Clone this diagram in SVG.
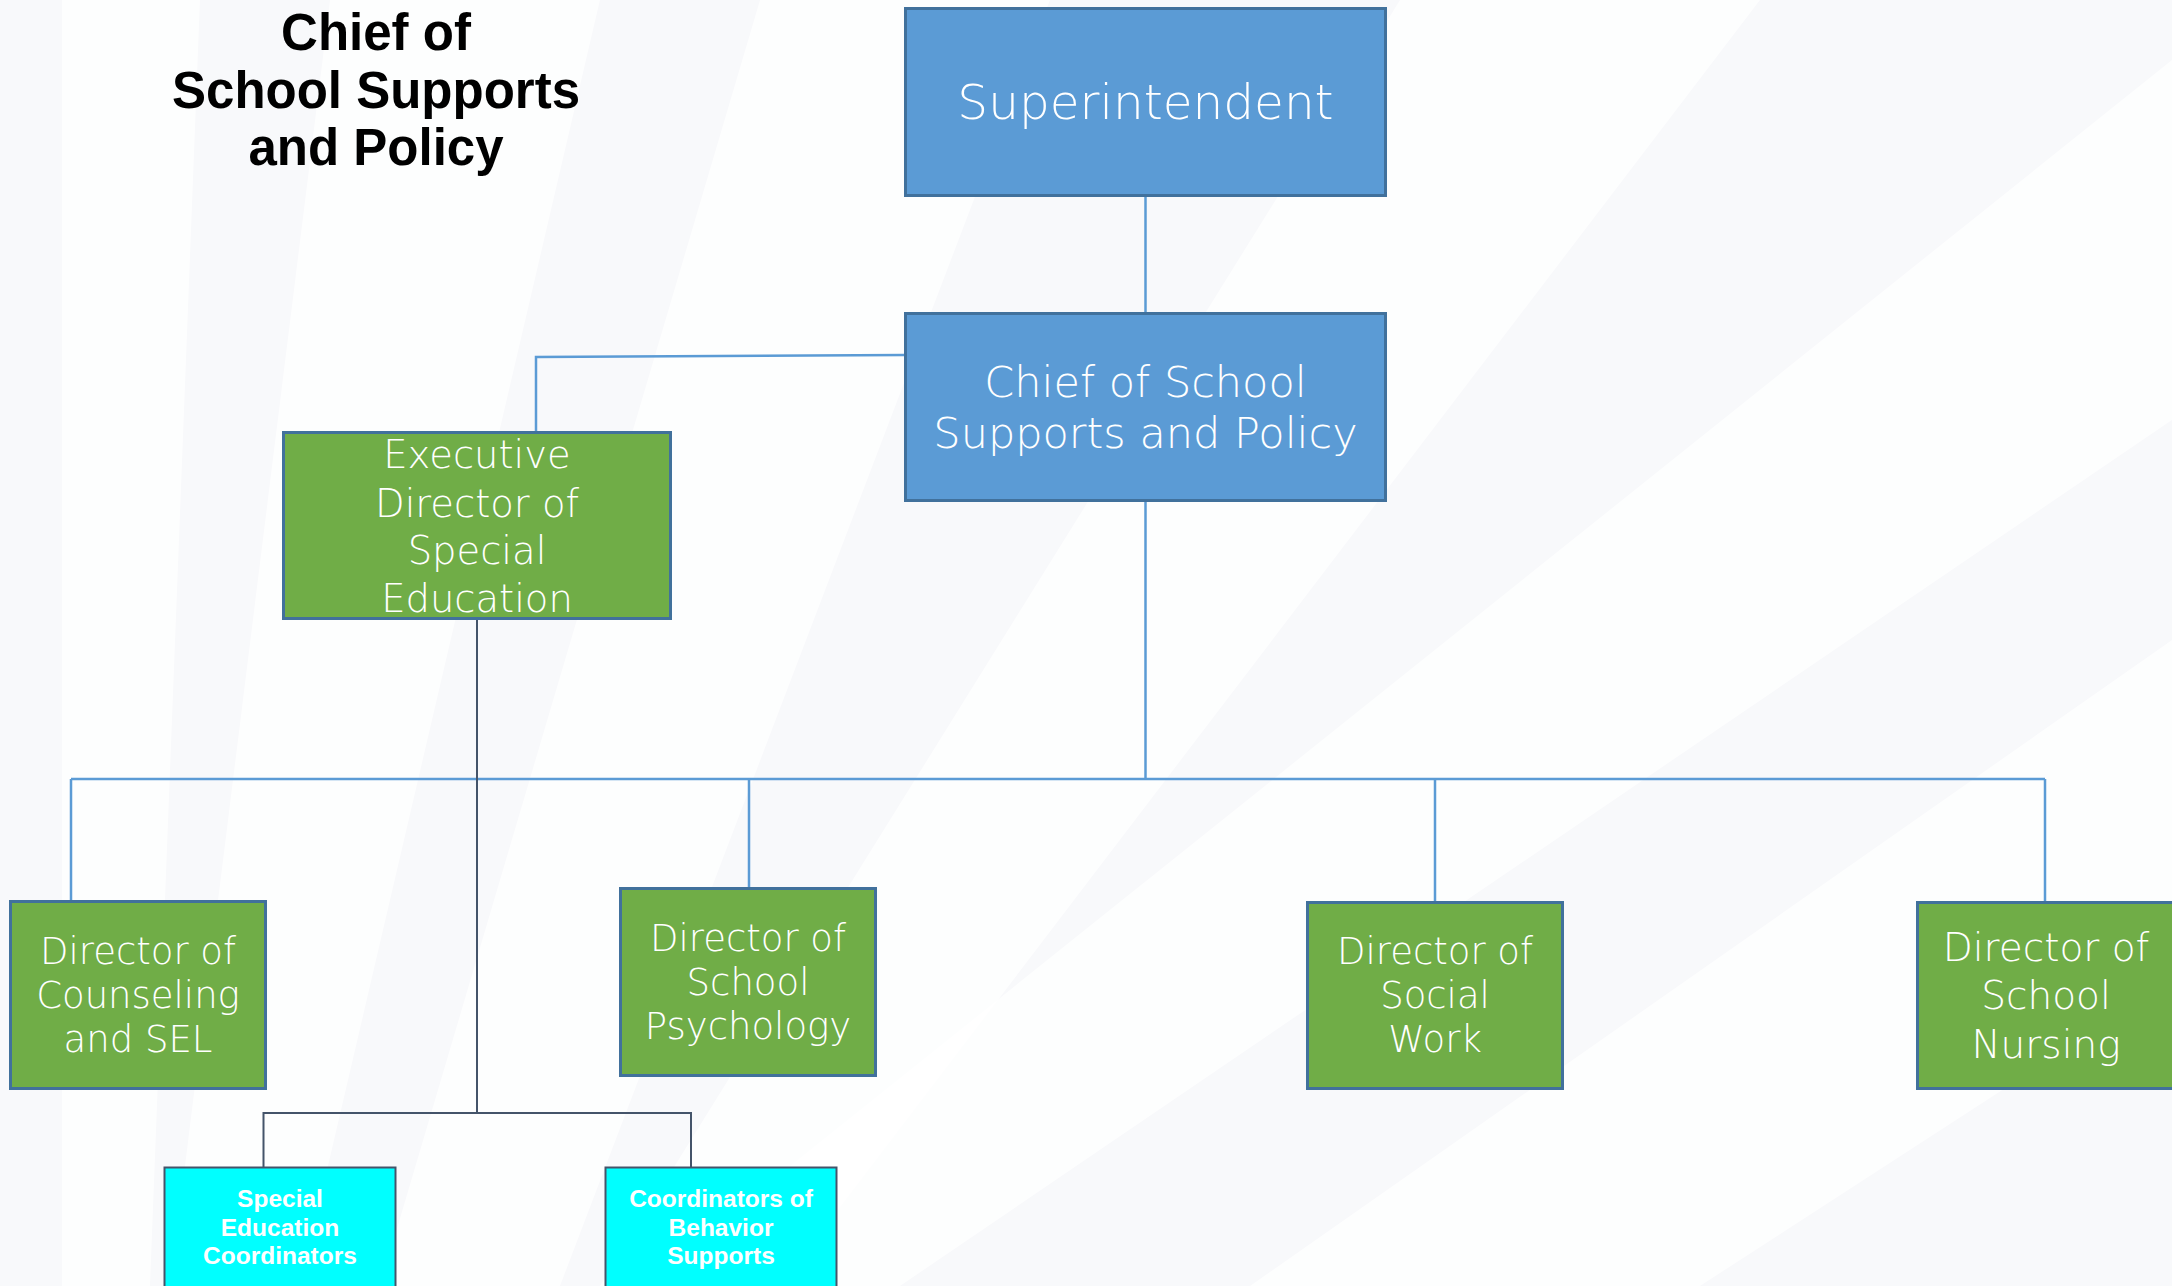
<svg xmlns="http://www.w3.org/2000/svg" width="2172" height="1286" viewBox="0 0 2172 1286">
<style>
.bg{fill:#F8F9FB}
.stripe{fill:#FFFFFF;opacity:0.75}
.blue{fill:#5B9BD5;stroke:#41719C;stroke-width:3}
.green{fill:#70AD47;stroke:#41719C;stroke-width:3}
.cyan{fill:#00FFFF;stroke:#44546A;stroke-width:2}
.t{font-family:"DejaVu Sans","Liberation Sans",sans-serif;font-weight:300;fill:#FFFFFF;text-anchor:middle}
.tb{font-family:"Liberation Sans","DejaVu Sans",sans-serif;font-weight:bold;fill:#FFFFFF;text-anchor:middle;font-size:24.5px}
.title{font-family:"Liberation Sans","DejaVu Sans",sans-serif;font-weight:bold;fill:#000000;text-anchor:middle;font-size:51px}
.cb{fill:none;stroke:#5B9BD5;stroke-width:2.5}
.cd{fill:none;stroke:#44546A;stroke-width:2}
</style>
<rect class="bg" x="0" y="0" width="2172" height="1286"/>
<g id="background">
<polygon class="stripe" points="62,0 200,0 150,1286 62,1286"/>
<polygon class="stripe" points="330,0 600,0 300,1286 170,1286"/>
<polygon class="stripe" points="760,0 1050,0 560,1286 380,1286"/>
<polygon class="stripe" points="1400,0 1760,0 780,1286 600,1286"/>
<polygon class="stripe" points="2172,60 2172,420 900,1286 640,1286"/>
<polygon class="stripe" points="2172,640 2172,980 1700,1286 1250,1286"/>
</g>
<g id="title">
<text class="title" x="376" y="50">Chief of</text>
<text class="title" x="376" y="108">School Supports</text>
<text class="title" x="376" y="165">and Policy</text>
</g>
<g id="connectors">
<line class="cb" x1="1145.5" y1="196" x2="1145.5" y2="313"/>
<polyline class="cb" points="536,432 536,357 905,355"/>
<line class="cb" x1="1145.5" y1="501" x2="1145.5" y2="779"/>
<line class="cb" x1="71" y1="779" x2="2045" y2="779"/>
<line class="cb" x1="71" y1="779" x2="71" y2="901"/>
<line class="cb" x1="749" y1="779" x2="749" y2="888"/>
<line class="cb" x1="1435" y1="779" x2="1435" y2="902"/>
<line class="cb" x1="2045" y1="779" x2="2045" y2="902"/>
<line class="cd" x1="477" y1="619" x2="477" y2="1113"/>
<polyline class="cd" points="263.5,1167 263.5,1113 691,1113 691,1167"/>
</g>
<g id="superintendent">
<rect class="blue" x="905.5" y="8.5" width="480" height="187"/>
<text class="t" x="1145.5" y="119" font-size="48.5">Superintendent</text>
</g>
<g id="chief">
<rect class="blue" x="905.5" y="313.5" width="480" height="187"/>
<text class="t" x="1145.5" y="397" font-size="43">Chief of School</text>
<text class="t" x="1145.5" y="448" font-size="43">Supports and Policy</text>
</g>
<g id="exec-director">
<rect class="green" x="283.5" y="432.5" width="387" height="186"/>
<text class="t" x="477" y="468" font-size="38.5">Executive</text>
<text class="t" x="477" y="517" font-size="38.5">Director of</text>
<text class="t" x="477" y="564" font-size="38.5">Special</text>
<text class="t" x="477" y="612" font-size="38.5">Education</text>
</g>
<g id="counseling">
<rect class="green" x="10.5" y="901.5" width="255" height="187"/>
<text class="t" x="138" y="964" font-size="37">Director of</text>
<text class="t" x="138" y="1008" font-size="37">Counseling</text>
<text class="t" x="138" y="1052" font-size="37">and SEL</text>
</g>
<g id="psychology">
<rect class="green" x="620.5" y="888.5" width="255" height="187"/>
<text class="t" x="748" y="951" font-size="37">Director of</text>
<text class="t" x="748" y="995" font-size="37">School</text>
<text class="t" x="748" y="1039" font-size="37">Psychology</text>
</g>
<g id="social-work">
<rect class="green" x="1307.5" y="902.5" width="255" height="186"/>
<text class="t" x="1435" y="964" font-size="37">Director of</text>
<text class="t" x="1435" y="1008" font-size="37">Social</text>
<text class="t" x="1435" y="1052" font-size="37">Work</text>
</g>
<g id="nursing">
<rect class="green" x="1917.5" y="902.5" width="270" height="186"/>
<text class="t" x="2046" y="961" font-size="39">Director of</text>
<text class="t" x="2046" y="1009" font-size="39">School</text>
<text class="t" x="2046" y="1058" font-size="39">Nursing</text>
</g>
<g id="sped-coordinators">
<rect class="cyan" x="164.5" y="1167.5" width="231" height="130"/>
<text class="tb" x="280" y="1207">Special</text>
<text class="tb" x="280" y="1236">Education</text>
<text class="tb" x="280" y="1264">Coordinators</text>
</g>
<g id="behavior-coordinators">
<rect class="cyan" x="605.5" y="1167.5" width="231" height="130"/>
<text class="tb" x="721" y="1207">Coordinators of</text>
<text class="tb" x="721" y="1236">Behavior</text>
<text class="tb" x="721" y="1264">Supports</text>
</g>
</svg>
